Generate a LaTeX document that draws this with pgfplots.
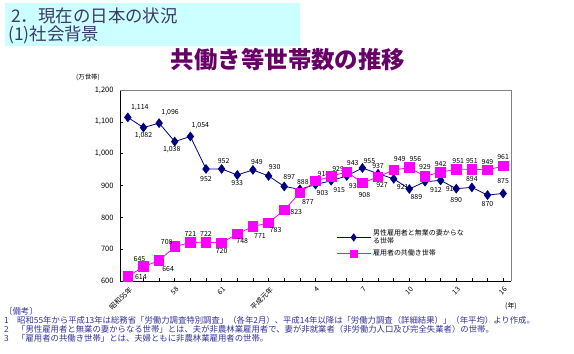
\documentclass[border=0pt]{standalone}
\usepackage{fontspec}
\setmainfont{Noto Sans CJK JP}
\usepackage{pgfplots}
\pgfplotsset{compat=1.18}
\usepackage{pgfplotstable}
\definecolor{navyline}{HTML}{000080}
\definecolor{pinkline}{HTML}{FF00FF}
\definecolor{titlepurple}{HTML}{660066}
\definecolor{headbg}{HTML}{CCFFFF}
\definecolor{headtext}{HTML}{3A3A6A}
\definecolor{notetext}{HTML}{333399}
\pgfplotsset{/pgf/number format/assume math mode=true}

\pgfplotstableread{
x y xs ys
0 1114 12 10
1 1082 0 -8
2 1096 11 10
3 1038 -3 -8
4 1054 10 11
5 952 0 -10
6 952 2 8
7 933 0 -8
8 949 4 8
9 930 6 9
10 897 5 9
11 888 3 7
12 903 7 -8
13 915 8 -9
14 930 8 -10
15 955 7 7
16 937 0 8
17 921 9 -8
18 889 7 -8
19 912 11 -8
20 916 11 -9
21 890 0 -11
22 894 0 8
23 870 0 -9
24 875 0 12
}\bluedata

\pgfplotstableread{
x y xs ys
0 614 13 0
1 645 -4 8
2 664 9 -8
3 708 -8 5
4 721 0 9
5 722 0 8
6 720 0 -8
7 748 5 -7
8 771 7 -9
9 783 7 -7
10 823 12 -2
11 877 8 -9
12 914 8 7
13 929 7 7
14 943 6 9
15 908 2 -12
16 927 4 -8
17 949 6 11
18 956 6 9
19 929 0 9
20 942 0 8
21 951 2 8
22 951 0 8
23 949 0 8
24 961 0 9
}\pinkdata

\begin{document}
\begin{tikzpicture}
\path[use as bounding box] (0bp,0bp) rectangle (574bp,-354bp);
\fill[headbg] (5bp,-3bp) rectangle (300bp,-46bp);
\node[anchor=west, text=headtext, font=\fontsize{17.5}{17.5}\selectfont, inner sep=0pt] at (11bp,-16bp) {2．現在の日本の状況};
\node[anchor=west, text=headtext, font=\fontsize{17.5}{17.5}\selectfont, inner sep=0pt] at (8bp,-35bp) {(1)社会背景};
\node[text=titlepurple, font=\bfseries\fontsize{23.5}{23.5}\selectfont, inner sep=0pt] at (288bp,-60bp) {共働き等世帯数の推移};
\node[font=\fontsize{6.5}{6.5}\selectfont, inner sep=0pt] at (88bp,-77bp) {(万世帯)};
\node[font=\fontsize{7}{7}\selectfont, inner sep=0pt] at (511bp,-306bp) {(年)};

\begin{axis}[
  at={(120bp,-281bp)}, anchor=south west,
  scale only axis, width=391bp, height=191bp,
  xmin=-0.5, xmax=24.5, ymin=600, ymax=1200,
  axis lines*=left,
  axis line style={black, line width=0.8pt},
  xtick={0,3,...,24},
  xticklabels={昭和55年,58,61,平成元年,4,7,10,13,16},
  minor xtick={0,...,24},
  ytick={600,700,...,1200},
  tick align=inside,
  major tick length=3bp, minor tick length=3bp,
  tick style={black, line width=0.6pt},
  xticklabel style={rotate=45, anchor=north east, font=\fontsize{7}{7}\selectfont, inner sep=1pt, xshift=-2bp, yshift=-3bp},
  yticklabel style={font=\fontsize{7.5}{7.5}\selectfont, xshift=-3bp},
  legend style={at={(rel axis cs:0.545,0.29)}, anchor=north west, draw=none, fill=none,
    font=\fontsize{7}{8}\selectfont, nodes={align=left}, row sep=1pt},
  legend cell align=left,
  legend image code/.code={\draw[mark repeat=2,mark phase=2,mark size=3.5] plot coordinates {(0cm,0cm) (0.6cm,0cm) (1.2cm,0cm)};},
  clip=false,
]
\addplot[navyline, line width=0.8pt, mark=diamond*, mark size=4.3, mark options={fill=navyline, solid},
  nodes near coords, point meta=y,
  visualization depends on={\thisrow{xs}\as\xs},
  visualization depends on={\thisrow{ys}\as\ys},
  nodes near coords style={anchor=center, xshift=\xs bp, yshift=\ys bp, font=\fontsize{7}{7}\selectfont, text=black, inner sep=0pt}]
  table[x=x,y=y]{\bluedata};
\addlegendentry{男性雇用者と無業の妻からな\\る世帯}
\addplot[pinkline, line width=0.8pt, mark=square*, mark size=4.8, mark options={fill=pinkline, solid},
  nodes near coords, point meta=y,
  visualization depends on={\thisrow{xs}\as\xs},
  visualization depends on={\thisrow{ys}\as\ys},
  nodes near coords style={anchor=center, xshift=\xs bp, yshift=\ys bp, font=\fontsize{7}{7}\selectfont, text=black, inner sep=0pt}]
  table[x=x,y=y]{\pinkdata};
\addlegendentry{雇用者の共働き世帯}
\draw[gray, line width=0.9pt] (rel axis cs:0,1) -- (rel axis cs:1,1) -- (rel axis cs:1,0);
\end{axis}

\begin{scope}[every node/.style={anchor=west, inner sep=0pt, text=notetext, font=\fontsize{8.4}{8.4}\selectfont}]
\node at (4bp,-311bp) {〔備考〕};
\node at (4bp,-320bp) {1\quad 昭和55年から平成13年は総務省「労働力調査特別調査」（各年2月）、平成14年以降は「労働力調査（詳細結果）」（年平均）より作成。};
\node at (4bp,-329bp) {2\quad 「男性雇用者と無業の妻からなる世帯」とは、夫が非農林業雇用者で、妻が非就業者（非労働力人口及び完全失業者）の世帯。};
\node at (4bp,-338bp) {3\quad 「雇用者の共働き世帯」とは、夫婦ともに非農林業雇用者の世帯。};
\end{scope}
\end{tikzpicture}
\end{document}
